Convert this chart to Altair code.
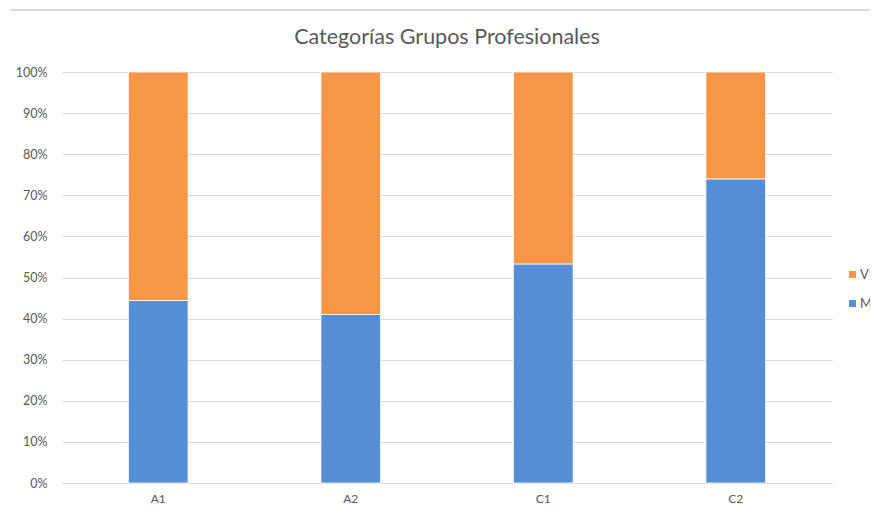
import altair as alt
import pandas as pd

categories = ["A1", "A2", "C1", "C2"]
m_pct = [44.4, 41.0, 53.3, 74.0]
v_pct = [55.6, 59.0, 46.7, 26.0]
series = ["V", "M"]
colors = ["#F79646", "#558ED5"]

rows = []
for c, m, v in zip(categories, m_pct, v_pct):
    rows.append({"cat": c, "serie": "M", "val": m, "rank": 0})
    rows.append({"cat": c, "serie": "V", "val": v, "rank": 1})
df = pd.DataFrame(rows)

FONT = "Lato"
GREY = "#595959"

bars = alt.Chart(df).mark_bar(stroke="white", strokeWidth=0.8).encode(
    x=alt.X("cat:N", sort=categories, title=None,
            scale=alt.Scale(paddingInner=0.69, paddingOuter=0.345),
            axis=alt.Axis(labelAngle=0, labelFont=FONT, labelFontSize=12, labelColor=GREY,
                          tickSize=0, domainColor="#d9d9d9", labelPadding=10, grid=False)),
    y=alt.Y("val:Q", stack="normalize", title=None,
            axis=alt.Axis(format=".0%", values=[i / 10 for i in range(11)],
                          labelFont=FONT, labelFontSize=12.5, labelColor=GREY,
                          tickSize=0, domain=False, labelPadding=15,
                          gridColor="#d9d9d9", gridWidth=1)),
    color=alt.Color("serie:N", scale=alt.Scale(domain=series, range=colors),
                    legend=alt.Legend(title=None, orient="none", legendX=784, legendY=196,
                                      symbolType="square", symbolSize=49, symbolStrokeWidth=0,
                                      labelFont=FONT, labelFontSize=13, labelColor=GREY,
                                      rowPadding=15, padding=0, labelOffset=1)),
    order=alt.Order("rank:Q"),
)

topline = alt.Chart(df).mark_rule(color="#d9d9d9", strokeWidth=1.5).encode(
    x=alt.value(-51), x2=alt.value(816), y=alt.value(-62)
)

chart = alt.layer(topline, bars).properties(
    width=770, height=411,
    autosize=alt.AutoSizeParams(type="none"),
    padding={"left": 54, "top": 64, "right": 38, "bottom": 26},
    title=alt.TitleParams("Categorías Grupos Profesionales", font=FONT, fontSize=21.5,
                          fontWeight="normal", color=GREY, anchor="middle", offset=0,
                          dy=39, frame="group"),
).configure_view(stroke=None)

chart.save("out.html", embed_options={"renderer": "svg", "actions": False})
